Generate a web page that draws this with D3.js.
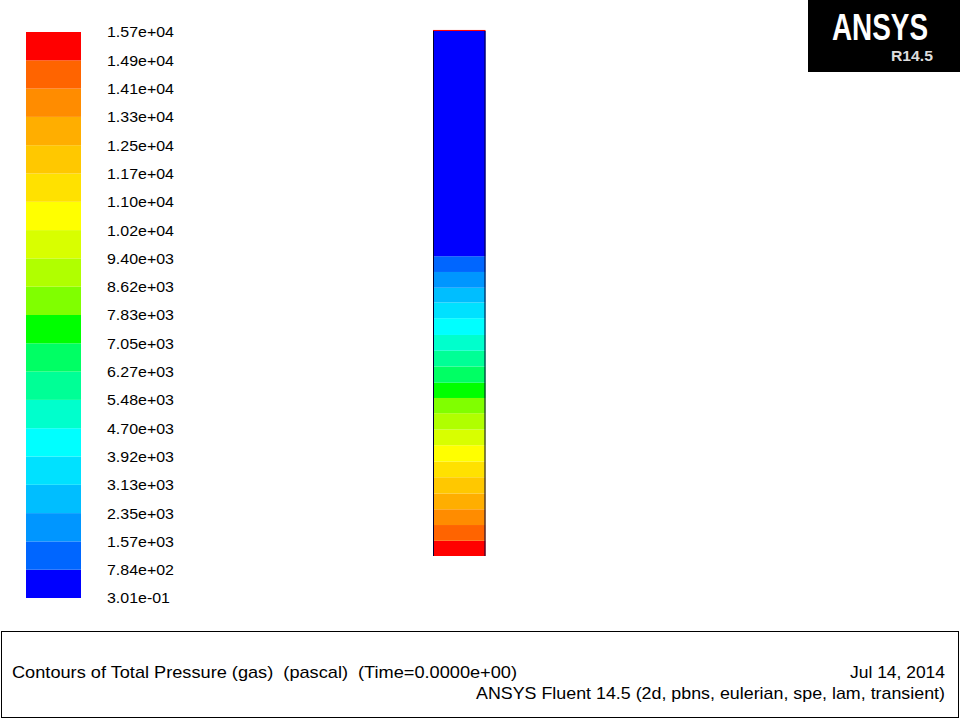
<!DOCTYPE html>
<html>
<head>
<meta charset="utf-8">
<script src="https://cdn.jsdelivr.net/npm/d3@7"></script>
<style>
  body { margin: 0; background: #fff; }
  svg { display: block; }
  text { font-family: "Liberation Sans", Arial, sans-serif; }
</style>
</head>
<body>
<div id="chart"></div>
<script>
// contour levels (pascal), bottom -> top
const levels = [3.01e-1, 7.84e2, 1.57e3, 2.35e3, 3.13e3, 3.92e3, 4.70e3, 5.48e3, 6.27e3, 7.05e3,
  7.83e3, 8.62e3, 9.40e3, 1.02e4, 1.10e4, 1.17e4, 1.25e4, 1.33e4, 1.41e4, 1.49e4, 1.57e4];

// one colour per band between two levels, bottom -> top
const bandColors = ["#0000ff", "#0066ff", "#0096ff", "#00beff", "#00e1ff", "#00ffff",
  "#00ffcc", "#00ff96", "#00ff64", "#00ff00", "#80ff00", "#b0ff00", "#d8ff00",
  "#ffff00", "#ffe100", "#ffc800", "#ffae00", "#ff8c00", "#ff6400", "#ff0000"];

// column cells: height range (m) and total pressure (Pa)
const cellBottom = [0, 0.029, 0.059, 0.089, 0.119, 0.150, 0.180, 0.211, 0.241, 0.272,
  0.301, 0.330, 0.361, 0.391, 0.421, 0.453, 0.483, 0.511, 0.541, 0.571, 1.0];
const cellTop = [0.029, 0.059, 0.089, 0.119, 0.150, 0.180, 0.211, 0.241, 0.272, 0.301,
  0.330, 0.361, 0.391, 0.421, 0.453, 0.483, 0.511, 0.541, 0.571, 1.0, 1.002];
const cellPressure = [15300, 14500, 13700, 12900, 12100, 11400, 10600, 9800, 9000, 8200,
  7400, 6650, 5870, 5090, 4310, 3520, 2740, 1960, 1180, 120, 15300];

const title = "Contours of Total Pressure (gas)  (pascal)  (Time=0.0000e+00)";
const dateText = "Jul 14, 2014";
const versionText = "ANSYS Fluent 14.5 (2d, pbns, eulerian, spe, lam, transient)";

const width = 960, height = 720;

const color = d3.scaleThreshold()
  .domain(levels.slice(1, -1))
  .range(bandColors);

// 1.57e+04 style labels
const fmt = v => {
  const [m, e] = v.toExponential(2).split("e");
  return `${m}e${e[0]}${e.slice(1).padStart(2, "0")}`;
};

const svg = d3.select("#chart").append("svg")
  .attr("width", width)
  .attr("height", height)
  .style("background", "white");

// legend
const ly = d3.scaleLinear().domain([0, levels.length - 1]).range([598, 32]);

svg.append("g")
  .selectAll("rect")
  .data(bandColors)
  .join("rect")
  .attr("x", 26)
  .attr("y", (d, i) => ly(i + 1))
  .attr("width", 55)
  .attr("height", (d, i) => ly(i) - ly(i + 1))
  .attr("fill", d => d);

const labels = svg.append("g")
  .selectAll("text")
  .data(levels)
  .join("text")
  .attr("x", 107)
  .attr("y", (d, i) => ly(i))
  .attr("dy", "0.36em")
  .attr("font-size", 15)
  .attr("fill", "#000")
  .text(d => fmt(d));

// fit to the width of the original raster font
const k = 67 / labels.nodes()[levels.length - 1].getComputedTextLength();
labels.each(function () {
  d3.select(this)
    .attr("textLength", this.getComputedTextLength() * k)
    .attr("lengthAdjust", "spacingAndGlyphs");
});

// column
const cx = d3.scaleLinear().domain([0, 1]).range([433, 485.5]);
const cy = d3.scaleLinear().domain([0, 1]).range([556, 31]);

const cells = cellPressure.map((p, i) => ({ y0: cellBottom[i], y1: cellTop[i], p }));

svg.append("g")
  .selectAll("rect")
  .data(cells)
  .join("rect")
  .attr("x", cx(0))
  .attr("y", d => cy(d.y1))
  .attr("width", cx(1) - cx(0))
  .attr("height", d => cy(d.y0) - cy(d.y1))
  .attr("fill", d => color(d.p));

svg.append("g")
  .selectAll("line")
  .data([0, 1])
  .join("line")
  .attr("x1", d => cx(d) + (d ? -0.5 : 0.5))
  .attr("x2", d => cx(d) + (d ? -0.5 : 0.5))
  .attr("y1", cy(1))
  .attr("y2", cy(0))
  .attr("stroke", "#000033")
  .attr("stroke-width", 1);

// logo
const logo = svg.append("g");
logo.append("rect")
  .attr("x", 808).attr("y", 0).attr("width", 152).attr("height", 72)
  .attr("fill", "#000");
logo.append("text")
  .attr("x", 832).attr("y", 40)
  .attr("font-family", "'Open Sans', 'DejaVu Sans', sans-serif")
  .attr("font-weight", 600)
  .attr("font-size", 36)
  .attr("textLength", 96)
  .attr("lengthAdjust", "spacingAndGlyphs")
  .attr("fill", "#fff")
  .text("ANSYS");
logo.append("text")
  .attr("x", 891).attr("y", 61)
  .attr("font-family", "'Open Sans', 'DejaVu Sans', sans-serif")
  .attr("font-weight", 600)
  .attr("font-size", 15)
  .attr("textLength", 42)
  .attr("lengthAdjust", "spacingAndGlyphs")
  .attr("fill", "#ddd")
  .text("R14.5");

// title box
const box = svg.append("g");
box.append("rect")
  .attr("x", 1.5).attr("y", 631.5).attr("width", 957).attr("height", 86)
  .attr("fill", "none")
  .attr("stroke", "#000");

box.append("text")
  .attr("x", 12).attr("y", 678)
  .attr("font-size", 17)
  .attr("textLength", 505)
  .attr("lengthAdjust", "spacingAndGlyphs")
  .style("white-space", "pre")
  .text(title);

box.append("text")
  .attr("x", 850).attr("y", 678)
  .attr("font-size", 17)
  .attr("textLength", 95)
  .attr("lengthAdjust", "spacingAndGlyphs")
  .text(dateText);

box.append("text")
  .attr("x", 476).attr("y", 699)
  .attr("font-size", 17)
  .attr("textLength", 469)
  .attr("lengthAdjust", "spacingAndGlyphs")
  .text(versionText);
</script>
</body>
</html>
